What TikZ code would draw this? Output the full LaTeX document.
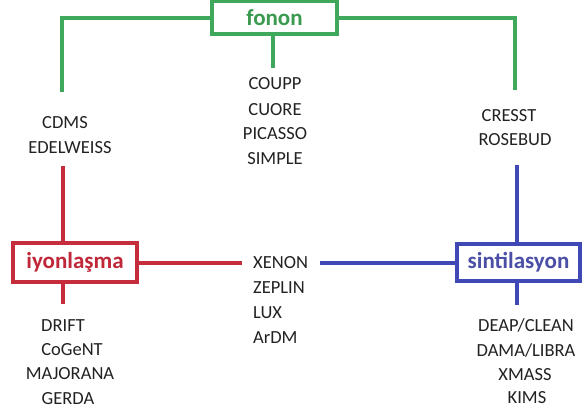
\documentclass[tikz,border=0pt]{standalone}
\usepackage{fontspec}
\setmainfont{Carlito}
\definecolor{gcol}{HTML}{3FA85A}
\definecolor{gtxt}{HTML}{3A9A50}
\definecolor{rcol}{HTML}{C62D3C}
\definecolor{rtxt}{HTML}{C0283A}
\definecolor{bcol}{HTML}{3F48B5}
\definecolor{btxt}{HTML}{4B4FA6}
\definecolor{ink}{HTML}{222222}
\begin{document}
\begin{tikzpicture}[x=1pt,y=-1pt,
  lbl/.style={font=\fontsize{18.5}{20}\selectfont, text=ink, inner sep=0pt, anchor=base},
  titlebox/.style={font=\bfseries\fontsize{23}{26}\selectfont, draw, line width=4pt, inner sep=0pt, fill=white},
  gline/.style={draw=gcol, line width=4pt},
  rline/.style={draw=rcol, line width=4pt},
  bline/.style={draw=bcol, line width=4pt}]
\useasboundingbox (0,0) rectangle (583,412);
\fill[white] (0,0) rectangle (583,412);

% title boxes
\node[titlebox, draw=gcol, text=gtxt, minimum width=125pt, minimum height=32.5pt] (fonon) at (274.5,17.75) {fonon};
\node[titlebox, draw=rcol, text=rtxt, minimum width=124pt, minimum height=39pt] (iyon) at (75,262.5) {iyonlaşma};
\node[titlebox, draw=bcol, text=btxt, minimum width=123pt, minimum height=37pt] (sint) at (518.5,262.5) {sintilasyon};

% labels (base line = centre + 6)
\node[lbl] (cdms) at (65,128) {CDMS};
\node[lbl] (edel) at (70,153) {EDELWEISS};
\node[lbl] (coupp) at (275,89) {COUPP};
\node[lbl] (cuore) at (275,115) {CUORE};
\node[lbl] (picasso) at (275,139) {PICASSO};
\node[lbl] (simple) at (275,164) {SIMPLE};
\node[lbl] (cresst) at (509,121) {CRESST};
\node[lbl] (rosebud) at (515,145) {ROSEBUD};
\node[lbl, anchor=base west] (xenon) at (253,268) {XENON};
\node[lbl, anchor=base west] (zeplin) at (253,293) {ZEPLIN};
\node[lbl, anchor=base west] (lux) at (253,318) {LUX};
\node[lbl, anchor=base west] (ardm) at (253,343) {ArDM};
\node[lbl] (drift) at (63,331) {DRIFT};
\node[lbl] (cogent) at (72,355) {CoGeNT};
\node[lbl] (majorana) at (70,379) {MAJORANA};
\node[lbl] (gerda) at (68,404) {GERDA};
\node[lbl] (deap) at (526,331) {DEAP/CLEAN};
\node[lbl] (dama) at (526,356) {DAMA/LIBRA};
\node[lbl] (xmass) at (525,380) {XMASS};
\node[lbl] (kims) at (527,403) {KIMS};

% free line ends
\coordinate (gl) at (62,92);
\coordinate (gr) at (515,90);
\coordinate (gc) at (273,68);
\coordinate (rt) at (63,166);
\coordinate (rb) at (63,304);
\coordinate (bt) at (517,165);
\coordinate (bb) at (517,305);

% connectors
\draw[gline] (fonon.west) -| (gl);
\draw[gline] (fonon.east) -| (gr);
\draw[gline] (fonon.south -| gc) -- (gc);
\draw[rline] (iyon.north -| rt) -- (rt);
\draw[rline] (iyon.south -| rb) -- (rb);
\draw[rline, shorten >=11pt] (iyon.east) -- (iyon.east -| xenon.west);
\draw[bline, shorten >=12pt] (sint.west) -- (sint.west -| xenon.east);
\draw[bline] (sint.north -| bt) -- (bt);
\draw[bline] (sint.south -| bb) -- (bb);
\end{tikzpicture}
\end{document}
